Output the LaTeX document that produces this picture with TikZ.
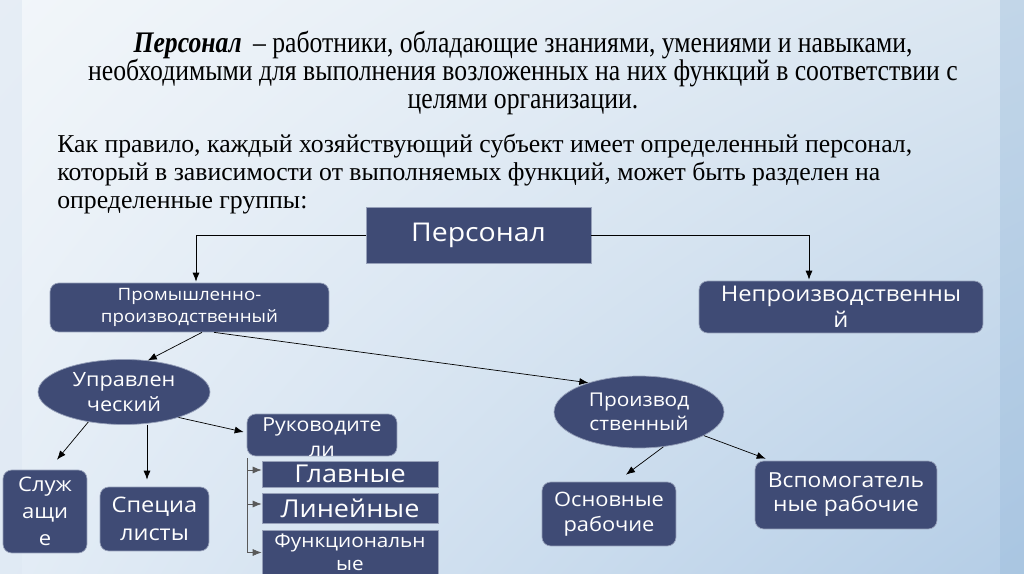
\documentclass[tikz,border=0pt]{standalone}
\usepackage{fontspec}
\setmainfont{Liberation Serif}
\newfontfamily\headfont[FakeStretch=0.86]{Liberation Serif}
\newfontfamily\boxfont[FakeStretch=1.1]{Open Sans}
\usetikzlibrary{arrows.meta,shapes.geometric,calc,shadings}
\definecolor{boxblue}{RGB}{63,75,117}
\definecolor{boxrim}{RGB}{150,160,185}
\definecolor{bgA}{RGB}{242,246,250}
\definecolor{bgB}{RGB}{218,230,241}
\definecolor{bgC}{RGB}{228,237,246}
\definecolor{bgD}{RGB}{180,205,230}
\definecolor{stripL}{RGB}{222,232,243}
\definecolor{stripR}{RGB}{150,185,218}
\tikzset{%
  >={Latex[width=1.4mm,length=1.8mm]},
            base/.style = {draw=boxrim, fill=boxblue, text=white, line width=0.4pt,
                           inner sep=0pt, align=center, font=\boxfont},
  box0/.style = {base, rectangle},
  box1/.style = {base, rectangle, rounded corners=5pt},
  oval/.style = {base, ellipse},
  void/.style = {text=white, align=center, inner sep=0pt, font=\boxfont},
}
\begin{document}
\begin{tikzpicture}[x=0.02cm, y=-0.02cm]
  \useasboundingbox (0,0) rectangle (1024,574);
  \clip (0,0) rectangle (1024,574);
  \shade[upper left=bgA, upper right=bgB, lower left=bgC, lower right=bgD] (0,0) rectangle (1024,574);
  \fill[stripL, opacity=0.6] (0,0) rectangle (22,574);
  \fill[stripR, opacity=0.35] (1000,0) rectangle (1024,574);

  \node (onTitle) [anchor=north, align=center, inner sep=0pt,
                   font=\headfont\fontsize{17pt}{15.9pt}\selectfont] at (523,31)
  {\textbf{\textit{Персонал}} \,– работники, обладающие знаниями, умениями и навыками,\\
   необходимыми для выполнения возложенных на них функций в соответствии с\\
   целями организации.};
  \node (onText) [anchor=north west, align=left, inner sep=0pt,
                  font=\fontsize{14.65pt}{15.9pt}\selectfont] at (57,134)
  {Как правило, каждый хозяйствующий субъект имеет определенный персонал,\\
   который в зависимости от выполняемых функций, может быть разделен на\\
   определенные группы:};

  \node (onPersonal)   [box0, minimum width=4.5cm,  minimum height=1.12cm,
                        font=\boxfont\fontsize{14.7pt}{16pt}\selectfont]  at (478.5,235) {Персонал};
  \node (onIndustrial) [box1, minimum width=5.58cm, minimum height=0.98cm,
                        font=\boxfont\fontsize{9.7pt}{12.5pt}\selectfont] at (189.5,307.5)
  {Промышленно-\\производственный};
  \node (onNonProd)    [box1, minimum width=5.68cm, minimum height=1.04cm,
                        font=\boxfont\fontsize{12.3pt}{15pt}\selectfont]  at (841,307)
  {Непроизводственны\\й};
  \node (onManage)     [oval, minimum width=3.44cm, minimum height=1.3cm,
                        font=\boxfont\fontsize{11.2pt}{14.7pt}\selectfont] at (124,392)
  {Управлен\\ческий};
  \node (onProduct)    [oval, minimum width=3.4cm,  minimum height=1.44cm,
                        font=\boxfont\fontsize{10.8pt}{13.6pt}\selectfont] at (639,412)
  {Производ\\ственный};
  \node (onClerks)     [box1, minimum width=1.68cm, minimum height=1.66cm,
                        font=\boxfont\fontsize{11.4pt}{15.3pt}\selectfont]  at (45,511.5)
  {Служ\\ащи\\е};
  \node (onSpecial)    [box1, minimum width=2.18cm, minimum height=1.28cm,
                        font=\boxfont\fontsize{12.2pt}{15.9pt}\selectfont]  at (154.5,519)
  {Специа\\листы};
  \node (onLeaders)    [box1, minimum width=3cm,    minimum height=0.84cm] at (322,435) {};
  \node (onLeadersTxt) [void, font=\boxfont\fontsize{11pt}{14.2pt}\selectfont] at (322,437.5)
  {Руководите\\ли};
  \node (onChief)      [box0, minimum width=3.52cm, minimum height=0.52cm,
                        font=\boxfont\fontsize{14pt}{15pt}\selectfont]  at (350,474) {Главные};
  \node (onLine)       [box0, minimum width=3.52cm, minimum height=0.6cm,
                        font=\boxfont\fontsize{14pt}{15pt}\selectfont]  at (350,508) {Линейные};
  \node (onFunc)       [box0, minimum width=3.52cm, minimum height=0.9cm] at (350,552.5) {};
  \node (onFuncTxt)    [void, font=\boxfont\fontsize{10.7pt}{13pt}\selectfont] at (350,552)
  {Функциональн\\ые};
  \node (onMain)       [box1, minimum width=2.68cm, minimum height=1.28cm,
                        font=\boxfont\fontsize{11.3pt}{14.2pt}\selectfont] at (609,514)
  {Основные\\рабочие};
  \node (onAux)        [box1, minimum width=3.64cm, minimum height=1.36cm,
                        font=\boxfont\fontsize{11.8pt}{13.6pt}\selectfont]   at (846,495)
  {Вспомогатель\\ные рабочие};

  \draw[->] (onPersonal.west) -| ($(onIndustrial.north)+(6.5,-1)$);
  \draw[->] (onPersonal.east) -| ($(onNonProd.north)+(-32,-1)$);
  \draw[->] ($(onIndustrial.south)+(12.5,0)$) -- (onManage.53);
  \draw[->] ($(onIndustrial.south)+(24.5,0)$) -- (onProduct.150);
  \draw[->] (onManage.220) -- ($(onClerks.north)+(12,-10)$);
  \draw[->] ($(onManage.south)+(23,0)$) -- ($(onSpecial.north)+(-7.5,-7)$);
  \draw[->] (onManage.335) -- ($(onLeaders.west)+(-3,-3)$);
  \coordinate (rail) at ($(onLeaders.south west)+(1,2)$);
  \foreach \n/\dy in {onChief/-4, onLine/-4, onFunc/0}
    \draw[->, gray!70!black] (rail) |- ($(\n.west)+(0,\dy)$);
  \draw[->] (onProduct.305) -- ($(onMain.north)+(17,-7)$);
  \draw[->] (onProduct.340) -- ($(onAux.north west)+(11,-2)$);
\end{tikzpicture}
\end{document}
